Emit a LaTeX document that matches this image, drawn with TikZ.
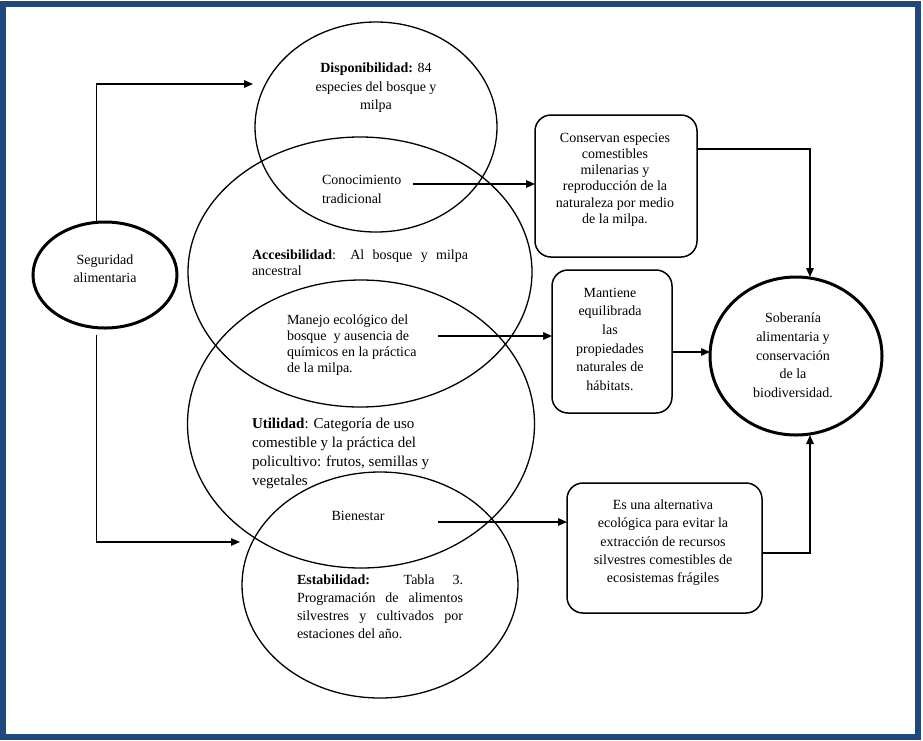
\documentclass[tikz,border=0pt]{standalone}
\usepackage{fontspec}
\setmainfont{Liberation Serif}
\usetikzlibrary{shapes.geometric,arrows.meta}
\definecolor{frameblue}{RGB}{31,73,125}
\newcommand\myfs[2]{\fontsize{#1}{#2}\selectfont}
\begin{document}
\begin{tikzpicture}[x=1pt,y=-1pt,
  ell/.style={draw,ellipse,inner sep=0pt,outer sep=0pt,line width=1.3pt},
  thickell/.style={draw,ellipse,inner sep=0pt,outer sep=0pt,line width=3pt},
  rbox/.style={draw,rectangle,rounded corners=16pt,inner sep=0pt,outer sep=0pt,line width=1.5pt},
  txt/.style={inner sep=0pt,outer sep=0pt},
  conn/.style={line width=1.4pt,-{Triangle[length=9pt,width=7.5pt]}}]
\useasboundingbox (0,0) rectangle (923,740);
\draw[frameblue,line width=6pt] (3,4) rectangle (918,737);

% ellipses
\node[ell,minimum width=242pt,minimum height=210pt] (e1) at (376,127) {};
\node[ell,minimum width=344pt,minimum height=270pt] (e2) at (360,272) {};
\node[ell,minimum width=347pt,minimum height=288pt] (e3) at (361,424) {};
\node[ell,minimum width=276pt,minimum height=226pt] (e4) at (380,585) {};
\node[thickell,minimum width=144pt,minimum height=106pt] (seg) at (105,275) {};
\node[thickell,minimum width=172pt,minimum height=158pt] (sob) at (796,356) {};

% boxes
\node[rbox,minimum width=162pt,minimum height=142pt] (bA) at (616,186) {};
\node[rbox,minimum width=120pt,minimum height=143pt] (bB) at (612,341.5) {};
\node[rbox,minimum width=195pt,minimum height=130pt] (bC) at (664.5,548) {};

% texts
\node[txt,anchor=north,align=center,font=\myfs{14}{18}] (tseg) at (105,255) {Seguridad\\alimentaria};
\node[txt,anchor=north,align=center,font=\myfs{14}{18.5}] (tdisp) at (376,63) {\textbf{Disponibilidad:} 84\\especies del bosque y\\milpa};
\node[txt,anchor=north west,align=left,font=\myfs{14}{19}] (tcon) at (322,175) {Conocimiento\\tradicional};
\node[txt,anchor=north west,align=left,font=\myfs{14}{16}] (tacc) at (252,250) {\makebox[216pt][s]{\textbf{Accesibilidad}: Al bosque y milpa}\\ancestral};
\node[txt,anchor=north west,align=left,font=\myfs{14}{16}] (tman) at (287,315) {Manejo ecológico del\\bosque \ y ausencia de\\químicos en la práctica\\de la milpa.};
\node[txt,anchor=north west,align=left,font=\myfs{15}{19}] (tuti) at (252,418) {\textbf{Utilidad}: Categoría de uso\\comestible y la práctica del\\policultivo: frutos, semillas y\\vegetales};
\node[txt,anchor=north,align=center,font=\myfs{14}{18}] (tbie) at (358,511) {Bienestar};
\node[txt,anchor=north west,align=left,font=\myfs{14}{18}] (test) at (297,575) {\makebox[166pt][s]{\textbf{Estabilidad:} Tabla 3.}\\\makebox[166pt][s]{Programación de alimentos}\\\makebox[166pt][s]{silvestres y cultivados por}\\estaciones del año.};
\node[txt,anchor=north,align=center,font=\myfs{14}{16.2}] (tA) at (615,133) {Conservan especies\\comestibles\\milenarias y\\reproducción de la\\naturaleza por medio\\de la milpa.};
\node[txt,anchor=north,align=center,font=\myfs{14}{18.6}] (tB) at (610,288) {Mantiene\\equilibrada\\las\\propiedades\\naturales de\\hábitats.};
\node[txt,anchor=north,align=center,font=\myfs{14}{18.75}] (tsob) at (793,313) {Soberanía\\alimentaria y\\conservación\\de la\\biodiversidad.};
\node[txt,anchor=north,align=center,font=\myfs{14}{18.2}] (tC) at (663,500) {Es una alternativa\\ecológica para evitar la\\extracción de recursos\\silvestres comestibles de\\ecosistemas frágiles};

% connector end points
\coordinate (pdisp) at (253,84);
\coordinate (pest) at (240,542);
\coordinate (c1) at (413,184);
\coordinate (c2) at (438,336);
\coordinate (c3) at (438,522);
\coordinate (sobtop) at (810,277);
\coordinate (sobbot) at (810,435);

% connectors
\draw[conn] (seg.99) |- (pdisp);
\draw[conn] ([yshift=-7pt]seg.261) |- (pest);
\draw[conn] (c1) -- (c1 -| bA.west);
\draw[conn] (c2) -- (c2 -| bB.west);
\draw[conn] (c3) -- (c3 -| bC.west);
\draw[conn] ([yshift=37pt]bA.east) -| (sobtop);
\draw[conn] ([yshift=-10.5pt]bB.east) -- ([yshift=4pt]sob.west);
\draw[conn] ([yshift=-5pt]bC.east) -| (sobbot);
\end{tikzpicture}
\end{document}
